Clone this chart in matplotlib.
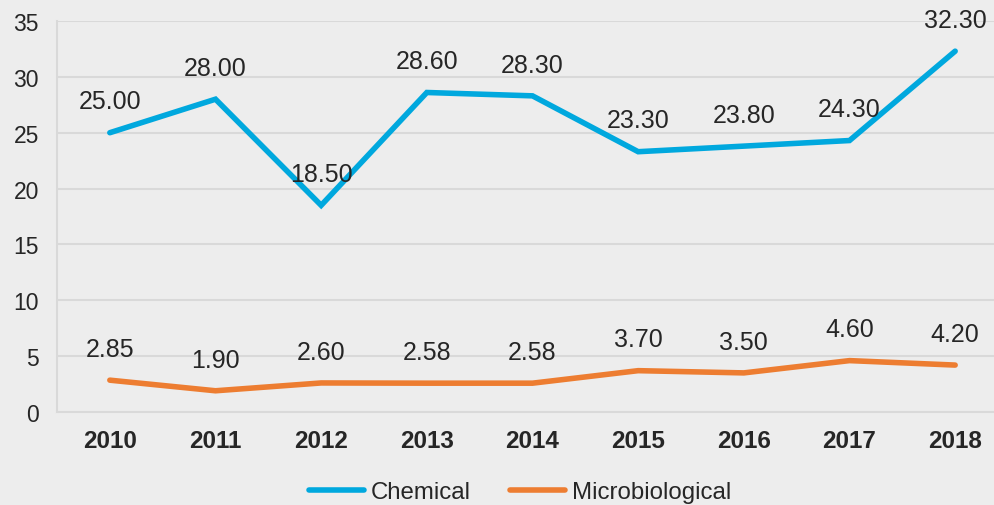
import matplotlib
matplotlib.use('Agg')
import matplotlib.pyplot as plt

years = ['2010', '2011', '2012', '2013', '2014', '2015', '2016', '2017', '2018']
chemical = [25.00, 28.00, 18.50, 28.60, 28.30, 23.30, 23.80, 24.30, 32.30]
microbiological = [2.85, 1.90, 2.60, 2.58, 2.58, 3.70, 3.50, 4.60, 4.20]
y_ticks = [0, 5, 10, 15, 20, 25, 30, 35]

plt.rcParams['font.family'] = ['Liberation Sans', 'DejaVu Sans']
bg = '#EDEDED'
grid_col = '#D9D9D9'
text_col = '#262626'

fig = plt.figure(figsize=(9.95, 5.06), dpi=100, facecolor=bg)
ax = fig.add_axes([57 / 995, 93 / 506, 951 / 995, 391 / 506], facecolor=bg)

x = range(len(years))
series = [(chemical, '#00A8DE', 'Chemical'), (microbiological, '#ED7D31', 'Microbiological')]
for vals, col, name in series:
    ax.plot(x, vals, color=col, lw=4, solid_capstyle='round', solid_joinstyle='miter', label=name, zorder=3)
    for xi, v in zip(x, vals):
        ax.annotate(f'{v:.2f}', (xi, v), xytext=(0, 22.5), textcoords='offset points',
                    ha='center', va='center', fontsize=18, color=text_col, zorder=4)

ax.set_xlim(-0.5, len(years) - 0.5)
ax.set_ylim(0, 35)
ax.set_yticks(y_ticks)
ax.set_xticks(list(x))
ax.set_xticklabels(years, fontweight='bold', fontsize=17.5, color=text_col)
ax.tick_params(axis='y', length=0, pad=13, labelsize=16.5, labelcolor=text_col)
ax.tick_params(axis='x', length=0, pad=12)
ax.grid(axis='y', color=grid_col, lw=1.5, zorder=0)
for s in ['top', 'right']:
    ax.spines[s].set_visible(False)
for s in ['left', 'bottom']:
    ax.spines[s].set_color(grid_col)
    ax.spines[s].set_linewidth(1.5)

fig.legend(loc='center', bbox_to_anchor=(520 / 995, 1 - 493 / 506), ncol=2, frameon=False,
           fontsize=17.3, handlelength=2.3, handletextpad=0.3, columnspacing=1.6,
           labelcolor=text_col)

fig.savefig('out.png', dpi=100, facecolor=bg)
